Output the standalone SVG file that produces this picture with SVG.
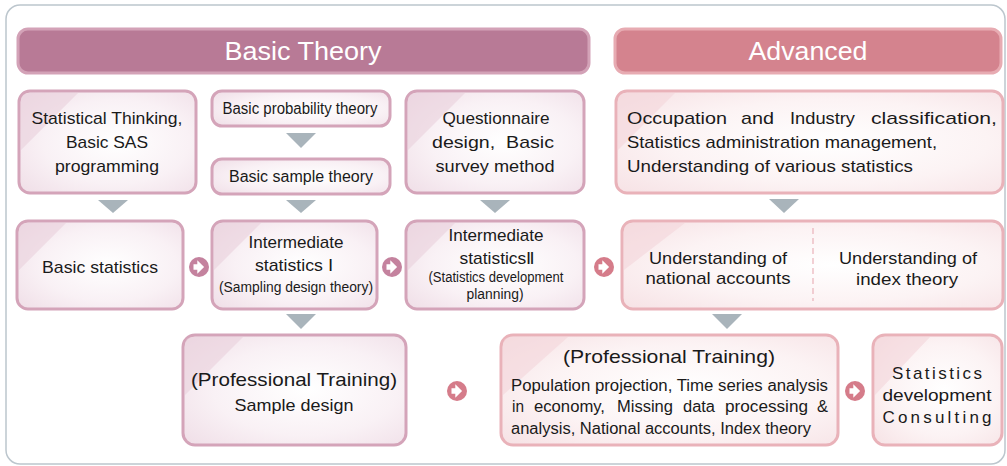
<svg xmlns="http://www.w3.org/2000/svg" width="1007" height="466" viewBox="0 0 1007 466">
<defs>
<style>
text{font-family:"Liberation Sans",Arial,sans-serif;fill:#1a1a1a;}
.t{font-size:17px;text-anchor:middle;}
.s{font-size:14px;text-anchor:middle;}
.l{font-size:17px;}
.h{font-size:26px;fill:#ffffff;text-anchor:middle;}
.bp{fill:url(#gp);stroke:#d4a4b9;stroke-width:3;}
.ba{fill:url(#ga);stroke:#e9b2b9;stroke-width:3;}
.tri{fill:#a9b4bb;}
.cp{fill:#c4829e;}
.ca{fill:#d57c8a;}
.hl{fill:#ead0dc;opacity:0.6;}
.hla{fill:#f3d5da;opacity:0.6;}
</style>
<radialGradient id="gp" cx="0.55" cy="0.5" r="0.75">
<stop offset="0" stop-color="#ffffff"/>
<stop offset="0.55" stop-color="#f9f1f5"/>
<stop offset="1" stop-color="#efdde6"/>
</radialGradient>
<radialGradient id="ga" cx="0.55" cy="0.5" r="0.75">
<stop offset="0" stop-color="#ffffff"/>
<stop offset="0.55" stop-color="#fcf3f4"/>
<stop offset="1" stop-color="#f6e1e4"/>
</radialGradient>
<g id="arr"><path d="M-5.5,-2.8 h3.8 v-4 l6.8,6.8 l-6.8,6.8 v-4 h-3.8 z" fill="#ffffff"/></g>
</defs>
<rect x="6" y="5" width="999" height="459" rx="14" fill="#ffffff" stroke="#bcc6cd" stroke-width="1.5"/>

<g id="header-basic">
<rect x="18" y="29" width="571" height="44" rx="10" fill="#b87a96" stroke="#d3a2b7" stroke-width="3"/>
<text class="h" x="303" y="60" textLength="157" lengthAdjust="spacingAndGlyphs">Basic Theory</text>
</g>
<g id="header-advanced">
<rect x="615" y="29" width="386" height="44" rx="10" fill="#d4838e" stroke="#e7abb2" stroke-width="3"/>
<text class="h" x="808" y="60" textLength="119" lengthAdjust="spacingAndGlyphs">Advanced</text>
</g>

<g id="connectors">
<polygon class="tri" points="98,200 128,200 113,213"/>
<polygon class="tri" points="286,133 316,133 301,148"/>
<polygon class="tri" points="286,200 316,200 301,213"/>
<polygon class="tri" points="480,200 510,200 495,213"/>
<polygon class="tri" points="769,199 799,199 784,213"/>
<polygon class="tri" points="286,314 316,314 301,329"/>
<polygon class="tri" points="712,314 742,314 727,329"/>
<circle class="cp" cx="199" cy="267" r="10"/><use href="#arr" x="199" y="267"/>
<circle class="cp" cx="392" cy="267" r="10"/><use href="#arr" x="392" y="267"/>
<circle class="ca" cx="604" cy="267" r="10"/><use href="#arr" x="604" y="267"/>
<circle class="ca" cx="457" cy="391" r="10"/><use href="#arr" x="457" y="391"/>
<circle class="ca" cx="855" cy="391" r="10"/><use href="#arr" x="855" y="391"/>
</g>

<g id="n-thinking">
<rect class="bp" x="19" y="91" width="177" height="102" rx="11"/>
<path class="hl" d="M21,150 L21,101 Q21,93 29,93 L78,93 Z"/>
<text class="t" x="107" y="124" textLength="151" lengthAdjust="spacingAndGlyphs">Statistical Thinking,</text>
<text class="t" x="107" y="148" textLength="82" lengthAdjust="spacingAndGlyphs">Basic SAS</text>
<text class="t" x="107" y="172" textLength="104" lengthAdjust="spacingAndGlyphs">programming</text>
</g>
<g id="n-probability">
<rect class="bp" x="212" y="91" width="178" height="35" rx="10"/>
<text class="t" x="300" y="114" style="font-size:16px" textLength="155" lengthAdjust="spacingAndGlyphs">Basic probability theory</text>
</g>
<g id="n-sample">
<rect class="bp" x="212" y="159" width="178" height="35" rx="10"/>
<text class="t" x="301" y="182" style="font-size:16px" textLength="144" lengthAdjust="spacingAndGlyphs">Basic sample theory</text>
</g>
<g id="n-questionnaire">
<rect class="bp" x="406" y="91" width="178" height="102" rx="11"/>
<path class="hl" d="M408,150 L408,101 Q408,93 416,93 L465,93 Z"/>
<text class="t" x="496" y="124" textLength="107" lengthAdjust="spacingAndGlyphs">Questionnaire</text>
<text class="t" x="493" y="148" textLength="122" lengthAdjust="spacingAndGlyphs" xml:space="preserve">design,  Basic</text>
<text class="t" x="495" y="172" textLength="119" lengthAdjust="spacingAndGlyphs">survey method</text>
</g>
<g id="n-occupation">
<rect class="ba" x="616" y="91" width="387" height="102" rx="11"/>
<path class="hla" d="M618,150 L618,101 Q618,93 626,93 L675,93 Z"/>
<text class="l" y="124"><tspan x="627" textLength="100" lengthAdjust="spacingAndGlyphs">Occupation</tspan> <tspan x="741" textLength="33" lengthAdjust="spacingAndGlyphs">and</tspan> <tspan x="790" textLength="65" lengthAdjust="spacingAndGlyphs">Industry</tspan> <tspan x="871" textLength="126" lengthAdjust="spacingAndGlyphs">classification,</tspan></text>
<text class="l" x="627" y="148" textLength="310" lengthAdjust="spacingAndGlyphs">Statistics administration management,</text>
<text class="l" x="627" y="172" textLength="286" lengthAdjust="spacingAndGlyphs">Understanding of various statistics</text>
</g>

<g id="n-basicstat">
<rect class="bp" x="17" y="221" width="166" height="88" rx="11"/>
<path class="hl" d="M19,270 L19,231 Q19,223 27,223 L66,223 Z"/>
<text class="t" x="100" y="273" textLength="116" lengthAdjust="spacingAndGlyphs">Basic statistics</text>
</g>
<g id="n-inter1">
<rect class="bp" x="212" y="221" width="165" height="88" rx="11"/>
<path class="hl" d="M214,270 L214,231 Q214,223 222,223 L261,223 Z"/>
<text class="t" x="296" y="248" textLength="95" lengthAdjust="spacingAndGlyphs">Intermediate</text>
<text class="t" x="294" y="271" textLength="78" lengthAdjust="spacingAndGlyphs">statistics Ⅰ</text>
<text class="s" x="296" y="292" textLength="154" lengthAdjust="spacingAndGlyphs">(Sampling design theory)</text>
</g>
<g id="n-inter2">
<rect class="bp" x="406" y="221" width="178" height="88" rx="11"/>
<path class="hl" d="M408,270 L408,231 Q408,223 416,223 L455,223 Z"/>
<text class="t" x="496" y="241" textLength="95" lengthAdjust="spacingAndGlyphs">Intermediate</text>
<text class="t" x="497" y="264" textLength="75" lengthAdjust="spacingAndGlyphs">statisticsⅡ</text>
<text class="s" x="496" y="282" textLength="135" lengthAdjust="spacingAndGlyphs">(Statistics development</text>
<text class="s" x="495" y="299" textLength="57" lengthAdjust="spacingAndGlyphs">planning)</text>
</g>
<g id="n-national">
<rect class="ba" x="622" y="221" width="381" height="88" rx="11"/>
<path class="hla" d="M624,270 L624,231 Q624,223 632,223 L685,223 Z"/>
<line x1="813" y1="228" x2="813" y2="301" stroke="#e9b2b9" stroke-width="1.2" stroke-dasharray="6,4"/>
<text class="t" x="718" y="264" textLength="138" lengthAdjust="spacingAndGlyphs">Understanding of</text>
<text class="t" x="718" y="284" textLength="145" lengthAdjust="spacingAndGlyphs">national accounts</text>
<text class="t" x="908" y="264" textLength="138" lengthAdjust="spacingAndGlyphs">Understanding of</text>
<text class="t" x="907" y="285" textLength="102" lengthAdjust="spacingAndGlyphs">index theory</text>
</g>

<g id="n-sampledesign">
<rect class="bp" x="183" y="335" width="223" height="110" rx="12"/>
<path class="hl" d="M185,395 L185,345 Q185,337 193,337 L243,337 Z"/>
<text class="t" x="294" y="386" style="font-size:19px" textLength="206" lengthAdjust="spacingAndGlyphs">(Professional Training)</text>
<text class="t" x="294" y="411" textLength="119" lengthAdjust="spacingAndGlyphs">Sample design</text>
</g>
<g id="n-proftraining">
<rect class="ba" x="501" y="335" width="337" height="110" rx="12"/>
<path class="hla" d="M503,395 L503,345 Q503,337 511,337 L568,337 Z"/>
<text class="t" x="669" y="363" style="font-size:19px" textLength="212" lengthAdjust="spacingAndGlyphs">(Professional Training)</text>
<text class="l" x="511" y="391" style="font-size:16px" textLength="317" lengthAdjust="spacingAndGlyphs">Population projection, Time series analysis</text>
<text class="l" y="412" style="font-size:16px"><tspan x="512" textLength="12" lengthAdjust="spacingAndGlyphs">in</tspan> <tspan x="534" textLength="71" lengthAdjust="spacingAndGlyphs">economy,</tspan> <tspan x="617" textLength="56" lengthAdjust="spacingAndGlyphs">Missing</tspan> <tspan x="683" textLength="32" lengthAdjust="spacingAndGlyphs">data</tspan> <tspan x="725" textLength="83" lengthAdjust="spacingAndGlyphs">processing</tspan> <tspan x="817" textLength="11" lengthAdjust="spacingAndGlyphs">&amp;</tspan></text>
<text class="l" x="511" y="434" style="font-size:16px" textLength="300" lengthAdjust="spacingAndGlyphs">analysis, National accounts, Index theory</text>
</g>
<g id="n-consulting">
<rect class="ba" x="873" y="335" width="129" height="110" rx="12"/>
<path class="hla" d="M875,395 L875,345 Q875,337 883,337 L930,337 Z"/>
<text class="t" x="937" y="379" textLength="90" lengthAdjust="spacing">Statistics</text>
<text class="t" x="937" y="401" textLength="109" lengthAdjust="spacingAndGlyphs">development</text>
<text class="t" x="937" y="423" textLength="109" lengthAdjust="spacing">Consulting</text>
</g>
</svg>
